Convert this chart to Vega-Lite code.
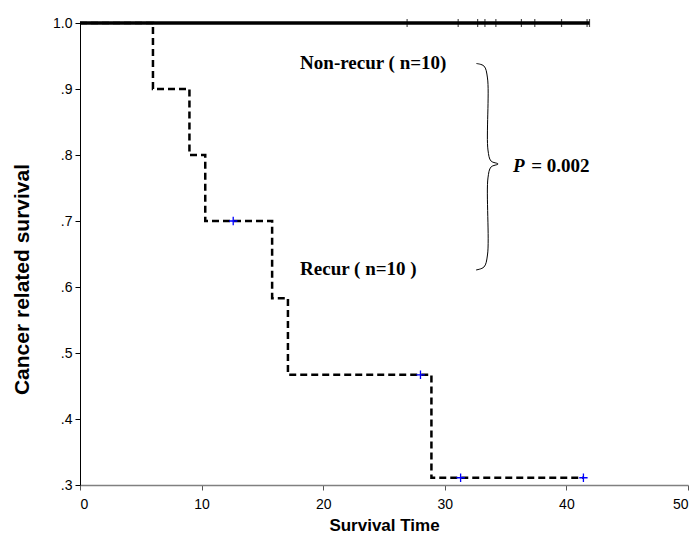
{
  "$schema": "https://vega.github.io/schema/vega-lite/v6.json",
  "autosize": {"type": "none"},
  "padding": {"left": 80, "top": 23, "right": 12, "bottom": 49},
  "width": 608,
  "height": 462,
  "background": "white",
  "config": {
    "view": {"stroke": null},
    "axis": {"grid": false, "labelFont": "Liberation Sans", "labelFontSize": 14, "labelColor": "#000", "titleFont": "Liberation Sans", "titleFontWeight": "bold", "titleColor": "#000", "tickColor": "#000", "tickSize": 5}
  },
  "datasets": {
    "nonrecur": [
      {"time": 0, "surv": 1.0},
      {"time": 41.9, "surv": 1.0}
    ],
    "nonrecur_censor": [
      {"time": 26.9, "surv": 1.0},
      {"time": 31.1, "surv": 1.0},
      {"time": 32.7, "surv": 1.0},
      {"time": 33.3, "surv": 1.0},
      {"time": 34.2, "surv": 1.0},
      {"time": 36.3, "surv": 1.0},
      {"time": 37.4, "surv": 1.0},
      {"time": 39.6, "surv": 1.0},
      {"time": 41.7, "surv": 1.0},
      {"time": 41.9, "surv": 1.0}
    ],
    "recur": [
      {"time": 0, "surv": 1.0},
      {"time": 6.0, "surv": 0.9},
      {"time": 9.0, "surv": 0.8},
      {"time": 10.3, "surv": 0.7},
      {"time": 15.8, "surv": 0.583},
      {"time": 17.1, "surv": 0.467},
      {"time": 28.9, "surv": 0.311},
      {"time": 41.4, "surv": 0.311}
    ],
    "recur_censor": [
      {"time": 12.6, "surv": 0.7},
      {"time": 28.0, "surv": 0.467},
      {"time": 31.3, "surv": 0.311},
      {"time": 41.4, "surv": 0.311}
    ],
    "brace": [
      {"i": 1, "x": 32.6, "y": 0.9386},
      {"i": 2, "x": 33.22, "y": 0.9348},
      {"i": 3, "x": 33.51, "y": 0.9167},
      {"i": 4, "x": 33.55, "y": 0.8076},
      {"i": 5, "x": 33.8, "y": 0.7909},
      {"i": 6, "x": 34.38, "y": 0.7864},
      {"i": 7, "x": 33.8, "y": 0.7818},
      {"i": 8, "x": 33.55, "y": 0.7652},
      {"i": 9, "x": 33.51, "y": 0.6485},
      {"i": 10, "x": 33.22, "y": 0.6303},
      {"i": 11, "x": 32.57, "y": 0.6258}
    ],
    "labels": [
      {"label": "Non-recur ( n=10)", "x": 18.1, "y": 0.94},
      {"label": "Recur ( n=10 )", "x": 18.1, "y": 0.628},
      {"label": "= 0.002", "x": 37.1, "y": 0.784}
    ],
    "plabel": [
      {"label": "P", "x": 35.6, "y": 0.784}
    ]
  },
  "layer": [
    {
      "data": {"name": "nonrecur"},
      "mark": {"type": "line", "color": "#000", "strokeWidth": 3.5},
      "encoding": {
        "x": {"field": "time", "type": "quantitative", "scale": {"domain": [0, 50], "nice": false},
          "axis": {"title": "Survival Time", "titleFontSize": 17, "values": [0, 10, 20, 30, 40, 50], "domainColor": "#808080", "domainWidth": 1.5, "labelPadding": 7, "titlePadding": 6, "tickColor": "#555"}},
        "y": {"field": "surv", "type": "quantitative", "scale": {"domain": [0.3, 1.0], "nice": false, "zero": false},
          "axis": {"title": "Cancer related survival", "titleFontSize": 21, "titleY": 256, "values": [0.3, 0.4, 0.5, 0.6, 0.7, 0.8, 0.9, 1.0], "labelExpr": "datum.value >= 0.999 ? '1.0' : replace(format(datum.value, '.1f'), '0.', '.')", "domainColor": "#000", "labelPadding": 3, "titlePadding": 20}}
      }
    },
    {
      "data": {"name": "nonrecur_censor"},
      "mark": {"type": "tick", "orient": "vertical", "color": "#000", "size": 8, "thickness": 1.2},
      "encoding": {
        "x": {"field": "time", "type": "quantitative"},
        "y": {"field": "surv", "type": "quantitative"}
      }
    },
    {
      "data": {"name": "recur"},
      "mark": {"type": "line", "interpolate": "step-after", "color": "#000", "strokeWidth": 2.5, "strokeDash": [7, 4]},
      "encoding": {
        "x": {"field": "time", "type": "quantitative"},
        "y": {"field": "surv", "type": "quantitative"}
      }
    },
    {
      "data": {"name": "recur_censor"},
      "mark": {"type": "point", "shape": "M-1,0H1M0,-1V1", "filled": false, "color": "#0000ff", "strokeWidth": 1.3, "size": 70, "opacity": 1},
      "encoding": {
        "x": {"field": "time", "type": "quantitative"},
        "y": {"field": "surv", "type": "quantitative"}
      }
    },
    {
      "data": {"name": "brace"},
      "mark": {"type": "line", "interpolate": "catmull-rom", "color": "#000", "strokeWidth": 1},
      "encoding": {
        "x": {"field": "x", "type": "quantitative"},
        "y": {"field": "y", "type": "quantitative"},
        "order": {"field": "i", "type": "quantitative"}
      }
    },
    {
      "data": {"name": "labels"},
      "mark": {"type": "text", "font": "Liberation Serif", "fontWeight": "bold", "fontSize": 19, "align": "left", "baseline": "middle", "color": "#000"},
      "encoding": {
        "x": {"field": "x", "type": "quantitative"},
        "y": {"field": "y", "type": "quantitative"},
        "text": {"field": "label"}
      }
    },
    {
      "data": {"name": "plabel"},
      "mark": {"type": "text", "font": "Liberation Serif", "fontWeight": "bold", "fontStyle": "italic", "fontSize": 19, "align": "left", "baseline": "middle", "color": "#000"},
      "encoding": {
        "x": {"field": "x", "type": "quantitative"},
        "y": {"field": "y", "type": "quantitative"},
        "text": {"field": "label"}
      }
    }
  ]
}
